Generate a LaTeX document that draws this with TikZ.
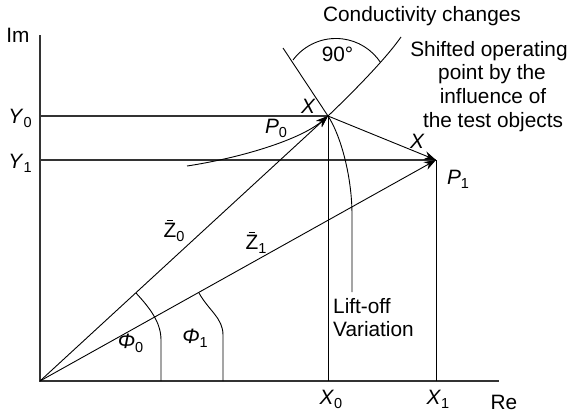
\documentclass[tikz,border=0pt]{standalone}
\usepackage{fontspec}
\setmainfont{Liberation Sans}
\usetikzlibrary{arrows.meta}
\newcommand{\lab}[2]{\textit{#1}\raisebox{-4pt}{\fontsize{14.5}{14.5}\selectfont #2}}
\newcommand{\zb}[1]{\ooalign{Z\cr\hfil\raisebox{16.5pt}{\rule{6.5pt}{0.9pt}}\hfil\cr}\raisebox{-4pt}{\fontsize{14.5}{14.5}\selectfont #1}}
\tikzset{
  axisline/.style={line width=1.3pt, black!80},
  thin line/.style={line width=0.9pt, black},
  vec/.style={line width=0.9pt, black, -{Stealth[length=12pt,width=8.5pt]}},
  txt/.style={anchor=base, inner sep=0pt},
}
\begin{document}
\begin{tikzpicture}[x=1pt, y=-1pt, font=\fontsize{20.8}{25}\selectfont]
\useasboundingbox (0,0) rectangle (573,415);
% points
\coordinate (O) at (40,381);
\coordinate (P0) at (328,116);
\coordinate (P1) at (436,160);
\coordinate (imtop) at (40,35);
\coordinate (reend) at (499,381);
\coordinate (y0) at (40,116);
\coordinate (y1) at (40,160);
\coordinate (x0) at (328,381);
\coordinate (x1) at (436,381);
\coordinate (lstart) at (283,48);
\coordinate (lend) at (352,292);
\coordinate (cend) at (401,37);
\coordinate (pstart) at (187,166);
% axes and projection lines
\draw[axisline] (imtop) -- (O) -- (reend);
\draw[axisline] (y0) -- (P0);
\draw[axisline] (y1) -- (P1);
\draw[thin line] (P0) -- (x0);
\draw[thin line] (P1) -- (x1);
% vectors
\draw[vec] (O) -- (P0);
\draw[vec] (O) -- (P1);
\draw[vec] (P0) -- (P1);
\draw[vec] (pstart) .. controls (240,158) and (300,140) .. (P0);
% angle arcs
\draw[thin line] (136,293) .. controls (149.5,307.7) and (161,322) .. (161,340) -- (161,381);
\draw[thin line] (199,293) .. controls (208.7,310.5) and (223,318) .. (223,335) -- (223,381);
% lift-off and conductivity curves
\draw[thin line] (lstart) -- (P0) .. controls (340,134) and (352,175) .. (352,215) -- (lend);
\draw[thin line] (P0) .. controls (350,95) and (385,60) .. (cend);
\draw[thin line] (293,60) arc[start angle=216.7, end angle=326.3, radius=53.5];
% labels
\node[txt] (im) at (18,42) {Im};
\node[txt] (re) at (504,409) {Re};
\node[txt] (ly0) at (20,123) {\lab{Y}{0}};
\node[txt] (ly1) at (20,168) {\lab{Y}{1}};
\node[txt] (lx0) at (331,404.5) {\lab{X}{0}};
\node[txt] (lx1) at (438,404.5) {\lab{X}{1}};
\node[txt] (phi0) at (130.5,348) {\lab{Φ}{0}};
\node[txt] (phi1) at (195,343) {\lab{Φ}{1}};
\node[txt] (z0) at (174,237) {\zb{0}};
\node[txt] (z1) at (256,249) {\zb{1}};
\node[txt] (xa) at (308.5,113) {\textit{X}};
\node[txt] (xb) at (417.5,148) {\textit{X}};
\node[txt] (lp0) at (276,133) {\lab{P}{0}};
\node[txt] (lp1) at (458,184) {\lab{P}{1}};
\node[txt] (deg) at (337.5,61) {90°};
\node[txt] (cond) at (422,21.5) {Conductivity changes};
\node[txt] (s1) at (489,56) {Shifted operating};
\node[txt] (s2) at (492,79.5) {point by the};
\node[txt] (s3) at (493,103) {influence of};
\node[txt] (s4) at (493,127) {the test objects};
\node[txt, anchor=base west] (lo1) at (333,313) {Lift-off};
\node[txt, anchor=base west] (lo2) at (333,336) {Variation};
\end{tikzpicture}
\end{document}
